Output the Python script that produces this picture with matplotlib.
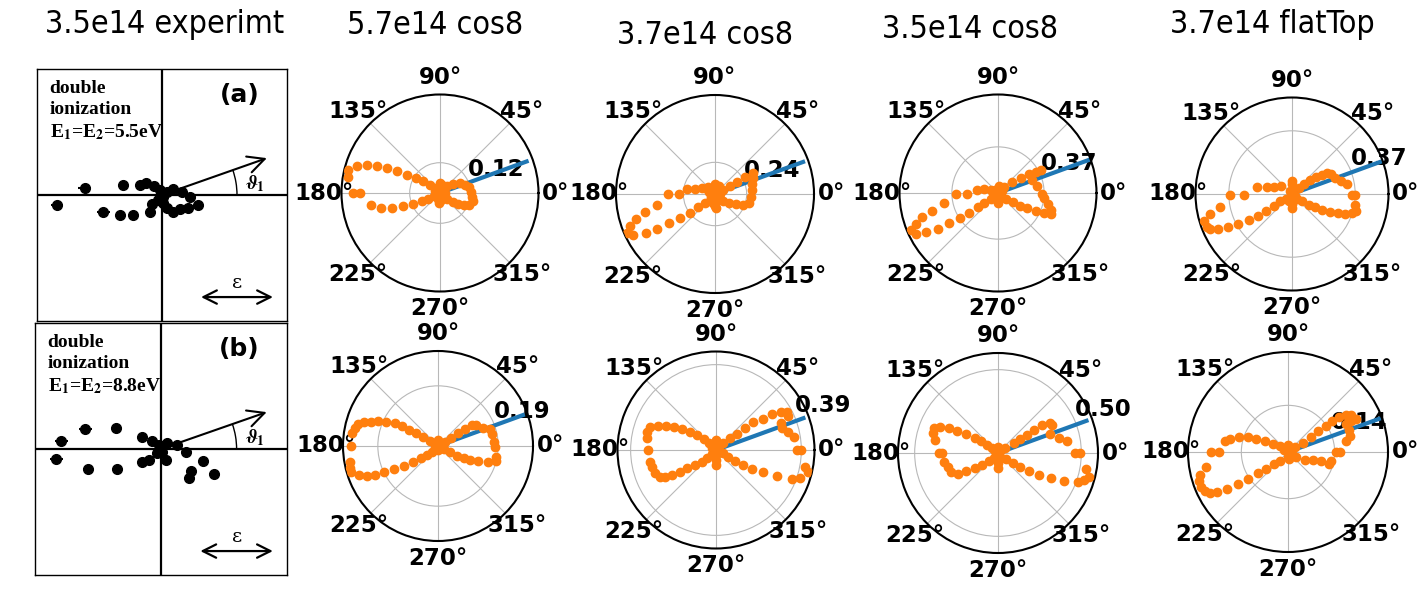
import numpy as np
import matplotlib.pyplot as plt
from matplotlib.patches import Arc

plt.rcParams['font.family'] = ['DejaVu Sans']
plt.rcParams['font.weight'] = 'bold'
plt.rcParams['mathtext.fontset'] = 'stix'

W, H = 1423, 598

# column titles
titles = ["3.5e14 experimt", "5.7e14 cos8", "3.7e14 cos8", "3.5e14 cos8", "3.7e14 flatTop"]

# --- experimental panels (a) and (b): dot positions in box units (-1..1) ---
exp_a_x = [-0.84, -0.62, -0.47, -0.34, -0.23, -0.31, -0.18, -0.13, -0.064, -0.016, -0.096, -0.08,
           -0.03, 0.01, 0.04, 0.09, 0.16, 0.22, 0.29, 0.21, 0.14, 0.09, 0.04, 0.01]
exp_a_y = [-0.08, 0.055, -0.135, -0.16, -0.16, 0.08, 0.08, 0.095, 0.07, 0.04, -0.135, -0.07,
           -0.04, -0.015, 0.025, 0.05, 0.025, -0.015, -0.08, -0.1, -0.11, -0.135, -0.1, -0.06]
exp_a_err = [0.05, 0.05, 0.05, 0.02, 0.0, 0.02, 0.0, 0.0, 0.0, 0.0, 0.0, 0.0,
             0.0, 0.0, 0.0, 0.0, 0.0, 0.0, 0.0, 0.0, 0.0, 0.0, 0.0, 0.0]

exp_b_x = [-0.83, -0.79, -0.60, -0.36, -0.58, -0.35, -0.15, -0.07, -0.15, -0.095, -0.016,
           0.05, 0.01, 0.04, -0.03, 0.13, 0.2, 0.33, 0.24, 0.22, 0.42]
exp_b_y = [-0.08, 0.065, 0.16, 0.17, -0.16, -0.16, 0.095, 0.065, -0.10, -0.085, 0.03,
           0.05, -0.02, -0.09, -0.03, 0.03, -0.02, -0.095, -0.175, -0.23, -0.2]
exp_b_err = [0.05, 0.05, 0.05, 0.03, 0.04, 0.03, 0.0, 0.0, 0.0, 0.0, 0.0,
             0.0, 0.0, 0.0, 0.0, 0.0, 0.0, 0.03, 0.02, 0.0, 0.04]

exp_labels = ["(a)", "(b)"]
exp_energy = ["5.5", "8.8"]

# --- simulated angular distributions: dot projections in units of r_max ---
t1_x = [-0.243, -0.338, -0.432, -0.534, -0.642, -0.743, -0.845, -0.929, -0.929, -0.885, -0.811,
        -0.703, -0.598, -0.490, -0.378, -0.270, -0.186, -0.118, -0.061, -0.169, -0.101, -0.051,
        0.068, 0.135, 0.203, 0.253, 0.297, 0.318, 0.328, 0.334, 0.297, 0.243, 0.186, 0.128, 0.074,
        0.02, -0.02, 0.0, 0.03, -0.03, 0.0, 0.01, 0.0, -0.01, 0.05, -0.05, 0.02, -0.02]
t1_y = [0.152, 0.186, 0.220, 0.253, 0.277, 0.287, 0.270, 0.236, 0.162, 0.0, 0.0,
        -0.118, -0.152, -0.152, -0.128, -0.108, -0.084, -0.061, -0.034, 0.118, 0.084, 0.051,
        0.068, 0.095, 0.101, 0.084, 0.057, 0.014, -0.041, -0.084, -0.122, -0.125, -0.111, -0.088, -0.057,
        0.02, 0.03, -0.03, -0.01, -0.01, 0.06, -0.07, 0.1, -0.1, 0.0, 0.02, 0.08, -0.06]

t2_x = [-0.279, -0.202, -0.135, -0.067, -0.471, -0.360, -0.589, -0.707, -0.798, -0.859, -0.892,
        -0.825, -0.697, -0.582, -0.461, -0.354, -0.253, -0.168, -0.101, -0.044,
        0.084, 0.152, 0.219, 0.303, 0.380, 0.387, 0.377, 0.370, 0.364, 0.347, 0.286, 0.212, 0.145, 0.077,
        0.0, 0.03, -0.03, 0.0, -0.04, 0.02, 0.0, 0.05, -0.06, 0.01, -0.02, 0.04, -0.08]
t2_y = [0.047, 0.047, 0.057, 0.074, 0.0, 0.0, -0.111, -0.185, -0.256, -0.323, -0.391,
        -0.414, -0.391, -0.357, -0.290, -0.246, -0.189, -0.128, -0.088, -0.054,
        0.040, 0.081, 0.121, 0.168, 0.215, 0.158, 0.101, 0.040, -0.027, -0.088, -0.108, -0.101, -0.088, -0.067,
        0.0, 0.05, 0.06, 0.1, -0.03, -0.06, -0.12, 0.0, 0.02, -0.14, -0.09, 0.08, 0.05]

t3_x = [-0.215, -0.140, -0.072, -0.427, -0.317, -0.546, -0.666, -0.768, -0.836, -0.887, -0.829,
        -0.727, -0.608, -0.495, -0.386, -0.290, -0.208, -0.140, -0.072,
        0.065, 0.143, 0.229, 0.314, 0.382, 0.433, 0.348, 0.399, 0.451, 0.468, 0.509, 0.543, 0.536,
        0.468, 0.382, 0.297, 0.222, 0.150, 0.082,
        0.0, 0.02, -0.03, 0.0, 0.0, 0.03, -0.05, 0.04, -0.02, 0.01]
t3_y = [0.034, 0.041, 0.034, -0.007, -0.007, -0.102, -0.181, -0.239, -0.314, -0.375, -0.416,
        -0.399, -0.365, -0.307, -0.256, -0.205, -0.143, -0.102, -0.061,
        0.061, 0.109, 0.154, 0.188, 0.212, 0.232, 0.130, 0.068, -0.007, -0.051, -0.109, -0.171, -0.212,
        -0.205, -0.184, -0.157, -0.130, -0.096, -0.061,
        0.0, 0.04, 0.03, -0.08, -0.1, -0.04, 0.0, 0.02, -0.05, 0.07]

t4_x = [-0.362, -0.259, -0.183, -0.114, -0.645, -0.500, -0.741, -0.845, -0.914, -0.886, -0.852,
        -0.769, -0.666, -0.559, -0.448, -0.355, -0.269, -0.190, -0.121, -0.062,
        0.069, 0.128, 0.190, 0.252, 0.310, 0.362, 0.403, 0.448, 0.507, 0.569, 0.621, 0.655, 0.655,
        0.666, 0.621, 0.552, 0.472, 0.390, 0.310, 0.241, 0.172, 0.103, 0.052,
        0.0, 0.0, 0.0, 0.02, -0.02, 0.01, -0.01, 0.03, 0.0, -0.03]
t4_y = [0.069, 0.069, 0.069, 0.086, -0.007, -0.007, -0.131, -0.207, -0.283, -0.338, -0.366,
        -0.362, -0.338, -0.310, -0.269, -0.224, -0.172, -0.121, -0.076, -0.048,
        0.062, 0.103, 0.145, 0.172, 0.200, 0.217, 0.207, 0.166, 0.131, 0.103, -0.007, -0.007, -0.110,
        -0.172, -0.200, -0.207, -0.200, -0.190, -0.166, -0.138, -0.110, -0.076, -0.052,
        0.1, -0.1, -0.15, 0.0, 0.03, 0.05, -0.05, -0.02, 0.13, -0.07]

b1_x = [-0.088, -0.158, -0.235, -0.305, -0.379, -0.456, -0.544, -0.632, -0.709, -0.779, -0.842,
        -0.877, -0.902, -0.912, -0.930, -0.930, -0.912, -0.832, -0.747, -0.667, -0.572, -0.467,
        -0.361, -0.263, -0.182, -0.116, -0.060,
        0.070, 0.140, 0.211, 0.281, 0.358, 0.404, 0.474, 0.551, 0.572, 0.586, 0.596, 0.614, 0.607,
        0.526, 0.421, 0.340, 0.270, 0.200, 0.130, 0.060,
        0.0, 0.02, -0.02, 0.0, 0.03, -0.03, 0.0]
b1_y = [0.053, 0.095, 0.133, 0.168, 0.207, 0.239, 0.256, 0.263, 0.256, 0.249, 0.228,
        0.186, 0.133, 0.004, -0.165, -0.235, -0.277, -0.305, -0.312, -0.305, -0.277, -0.242,
        -0.207, -0.165, -0.130, -0.095, -0.060,
        0.046, 0.088, 0.133, 0.175, 0.221, 0.221, 0.186, 0.179, 0.123, 0.046, -0.007, -0.112, -0.154,
        -0.165, -0.158, -0.147, -0.130, -0.102, -0.067, -0.032,
        0.0, 0.03, 0.02, -0.04, -0.02, -0.01, 0.06]

b2_x = [-0.068, -0.122, -0.190, -0.264, -0.349, -0.427, -0.508, -0.593, -0.671, -0.698, -0.705,
        -0.688, -0.671, -0.654, -0.620, -0.569, -0.515, -0.447, -0.366, -0.292, -0.214, -0.146,
        -0.088, -0.041,
        0.075, 0.142, 0.210, 0.295, 0.380, 0.475, 0.566, 0.661, 0.719, 0.736, 0.658, 0.668, 0.736,
        0.793, 0.827, 0.861, 0.905, 0.929, 0.854, 0.769, 0.617, 0.481, 0.366, 0.271, 0.193, 0.125,
        0.068,
        0.0, 0.0, 0.0, -0.04, 0.03, -0.02, 0.02, -0.03, 0.0]
b2_y = [0.068, 0.112, 0.153, 0.186, 0.214, 0.231, 0.241, 0.247, 0.237, 0.186, 0.125,
        0.0, -0.119, -0.176, -0.237, -0.271, -0.275, -0.254, -0.220, -0.186, -0.153, -0.119,
        -0.078, -0.044,
        0.068, 0.119, 0.166, 0.220, 0.281, 0.315, 0.363, 0.383, 0.390, 0.349, 0.271, 0.220, 0.186,
        0.136, 0.0, 0.0, -0.169, -0.227, -0.281, -0.295, -0.268, -0.227, -0.193, -0.153, -0.112, -0.071,
        -0.034,
        0.1, -0.15, -0.1, 0.02, 0.04, -0.05, -0.03, 0.05, 0.0]

b3_x = [-0.060, -0.110, -0.167, -0.233, -0.317, -0.410, -0.493, -0.577, -0.643, -0.653, -0.627,
        -0.593, -0.560, -0.537, -0.503, -0.470, -0.403, -0.323, -0.230, -0.157, -0.090, -0.043,
        0.073, 0.157, 0.223, 0.290, 0.363, 0.440, 0.517, 0.540, 0.523, 0.607, 0.690, 0.773, 0.823,
        0.880, 0.913, 0.863, 0.797, 0.657, 0.530, 0.407, 0.307, 0.223, 0.150, 0.077,
        0.0, 0.0, 0.0, 0.03, -0.03, 0.02, -0.02, 0.0]
b3_y = [0.050, 0.083, 0.117, 0.150, 0.190, 0.223, 0.250, 0.260, 0.250, 0.200, 0.133,
        0.0, 0.0, -0.090, -0.143, -0.190, -0.210, -0.183, -0.150, -0.117, -0.083, -0.050,
        0.050, 0.100, 0.143, 0.183, 0.227, 0.277, 0.300, 0.277, 0.190, 0.150, 0.123, 0.0, 0.0,
        -0.157, -0.243, -0.270, -0.293, -0.277, -0.250, -0.217, -0.183, -0.140, -0.100, -0.057,
        0.0, -0.1, -0.15, 0.03, 0.02, -0.04, -0.06, 0.06]

b4_x = [-0.083, -0.150, -0.233, -0.317, -0.400, -0.490, -0.577, -0.633, -0.690, -0.767, -0.817,
        -0.877, -0.893, -0.873, -0.830, -0.783, -0.710, -0.610, -0.500, -0.400, -0.300, -0.217,
        -0.143, -0.077,
        0.067, 0.150, 0.233, 0.300, 0.377, 0.440, 0.510, 0.583, 0.633, 0.677, 0.633, 0.577, 0.610,
        0.617, 0.583, 0.517, 0.477, 0.433, 0.410, 0.333, 0.250, 0.167, 0.083,
        0.0, 0.02, -0.02, 0.0, 0.04, -0.04, 0.01, 0.0]
b4_y = [0.057, 0.083, 0.113, 0.127, 0.147, 0.153, 0.133, 0.107, 0.0, 0.0, -0.153,
        -0.227, -0.293, -0.347, -0.387, -0.410, -0.400, -0.367, -0.320, -0.267, -0.213, -0.167,
        -0.120, -0.087,
        0.047, 0.090, 0.147, 0.213, 0.257, 0.307, 0.347, 0.373, 0.373, 0.333, 0.307, 0.280, 0.223,
        0.157, 0.107, 0.0, 0.0, -0.093, -0.120, -0.093, -0.083, -0.077, -0.053,
        0.0, 0.04, 0.03, -0.05, -0.02, 0.02, -0.07, 0.07]

panel_x = [t1_x, t2_x, t3_x, t4_x, b1_x, b2_x, b3_x, b4_x]
panel_y = [t1_y, t2_y, t3_y, t4_y, b1_y, b2_y, b3_y, b4_y]
r_max = [0.39, 0.75, 0.79, 0.565, 0.30, 0.45, 0.60, 0.30]
r_tick = [0.12, 0.24, 0.37, 0.37, 0.19, 0.39, 0.50, 0.14]
line_angle_deg = 20
line_len = [0.365, 0.71, 0.775, 0.55, 0.285, 0.425, 0.565, 0.29]

fig = plt.figure(figsize=(W / 100, H / 100), dpi=100)

# titles
title_pos = [(165, 25), (435, 25), (705, 36), (970, 29), (1272, 24)]
for t, (px, py) in zip(titles, title_pos):
    fig.text(px / W, 1 - py / H, t, ha='center', va='center', fontsize=23,
             fontweight='normal', fontstretch='condensed')

# experimental boxes
exp_rects = [(37, 69, 250, 252), (35, 323, 252, 252)]
exp_xs = [exp_a_x, exp_b_x]
exp_ys = [exp_a_y, exp_b_y]
exp_errs = [exp_a_err, exp_b_err]
for k in range(2):
    x0, y0, w, h = exp_rects[k]
    ax = fig.add_axes([x0 / W, 1 - (y0 + h) / H, w / W, h / H])
    ax.set_xlim(-1, 1)
    ax.set_ylim(-1, 1)
    ax.set_xticks([])
    ax.set_yticks([])
    for s in ax.spines.values():
        s.set_linewidth(1.0)
    ax.axhline(0, color='black', lw=1.6)
    ax.axvline(0, color='black', lw=1.6)
    ax.errorbar(exp_xs[k], exp_ys[k], xerr=exp_errs[k], fmt='o', color='black',
                ms=7, elinewidth=1.5, capsize=0, zorder=3)
    ax.annotate('', xy=(0.86, 0.30), xytext=(0, 0),
                arrowprops=dict(arrowstyle='->', lw=1.5, color='black',
                                mutation_scale=30))
    ax.add_patch(Arc((0, 0), 1.2, 1.2, theta1=0, theta2=19.5, lw=1.0, color='black'))
    ax.text(0.74, 0.09, r'$\vartheta_1$', fontsize=14, ha='center', va='center')
    ax.annotate('', xy=(0.91, -0.81), xytext=(0.29, -0.81),
                arrowprops=dict(arrowstyle='<->', lw=1.6, color='black',
                                mutation_scale=24))
    ax.text(0.60, -0.70, 'ε', fontsize=14, ha='center', va='center',
            family='DejaVu Serif', fontweight='normal')
    ax.text(0.05, 0.955,
            'double\nionization\nE$_\\mathbf{1}$=E$_\\mathbf{2}$=' + exp_energy[k] + 'eV',
            transform=ax.transAxes, ha='left', va='top',
            fontsize=14, family='Liberation Serif', fontweight='bold', linespacing=1.3)
    ax.text(0.81, 0.895, exp_labels[k], transform=ax.transAxes, ha='center', va='center',
            fontsize=18, fontweight='bold')

# polar panels: centre (px) and radius (px)
polar_geom = [(440, 193, 98.5), (715, 194, 99), (998, 193, 98.5), (1292, 194, 96.5),
              (438, 446, 95), (716, 450, 98.5), (998, 453, 100), (1288, 452, 100)]
for i, (cx, cy, rad) in enumerate(polar_geom):
    ax = fig.add_axes([(cx - rad) / W, 1 - (cy + rad) / H, 2 * rad / W, 2 * rad / H],
                      projection='polar')
    x = np.array(panel_x[i])
    y = np.array(panel_y[i])
    theta = np.arctan2(y, x)
    r = r_max[i] * np.hypot(x, y)
    ang = np.deg2rad(line_angle_deg)
    ax.plot([ang, ang], [0, line_len[i]], color='#1f77b4', lw=3, zorder=2)
    ax.plot(theta, r, 'o', color='#ff7f0e', ms=6, ls='none', zorder=3)
    ax.set_ylim(0, r_max[i])
    ax.set_rticks([r_tick[i]])
    ax.set_yticklabels([f'{r_tick[i]:.2f}'])
    ax.grid(color='#b8b8b8', lw=0.8)
    ax.spines['polar'].set_linewidth(1.5)
    ax.tick_params(labelsize=16.5, pad=2)

fig.savefig('out.png', dpi=100)
